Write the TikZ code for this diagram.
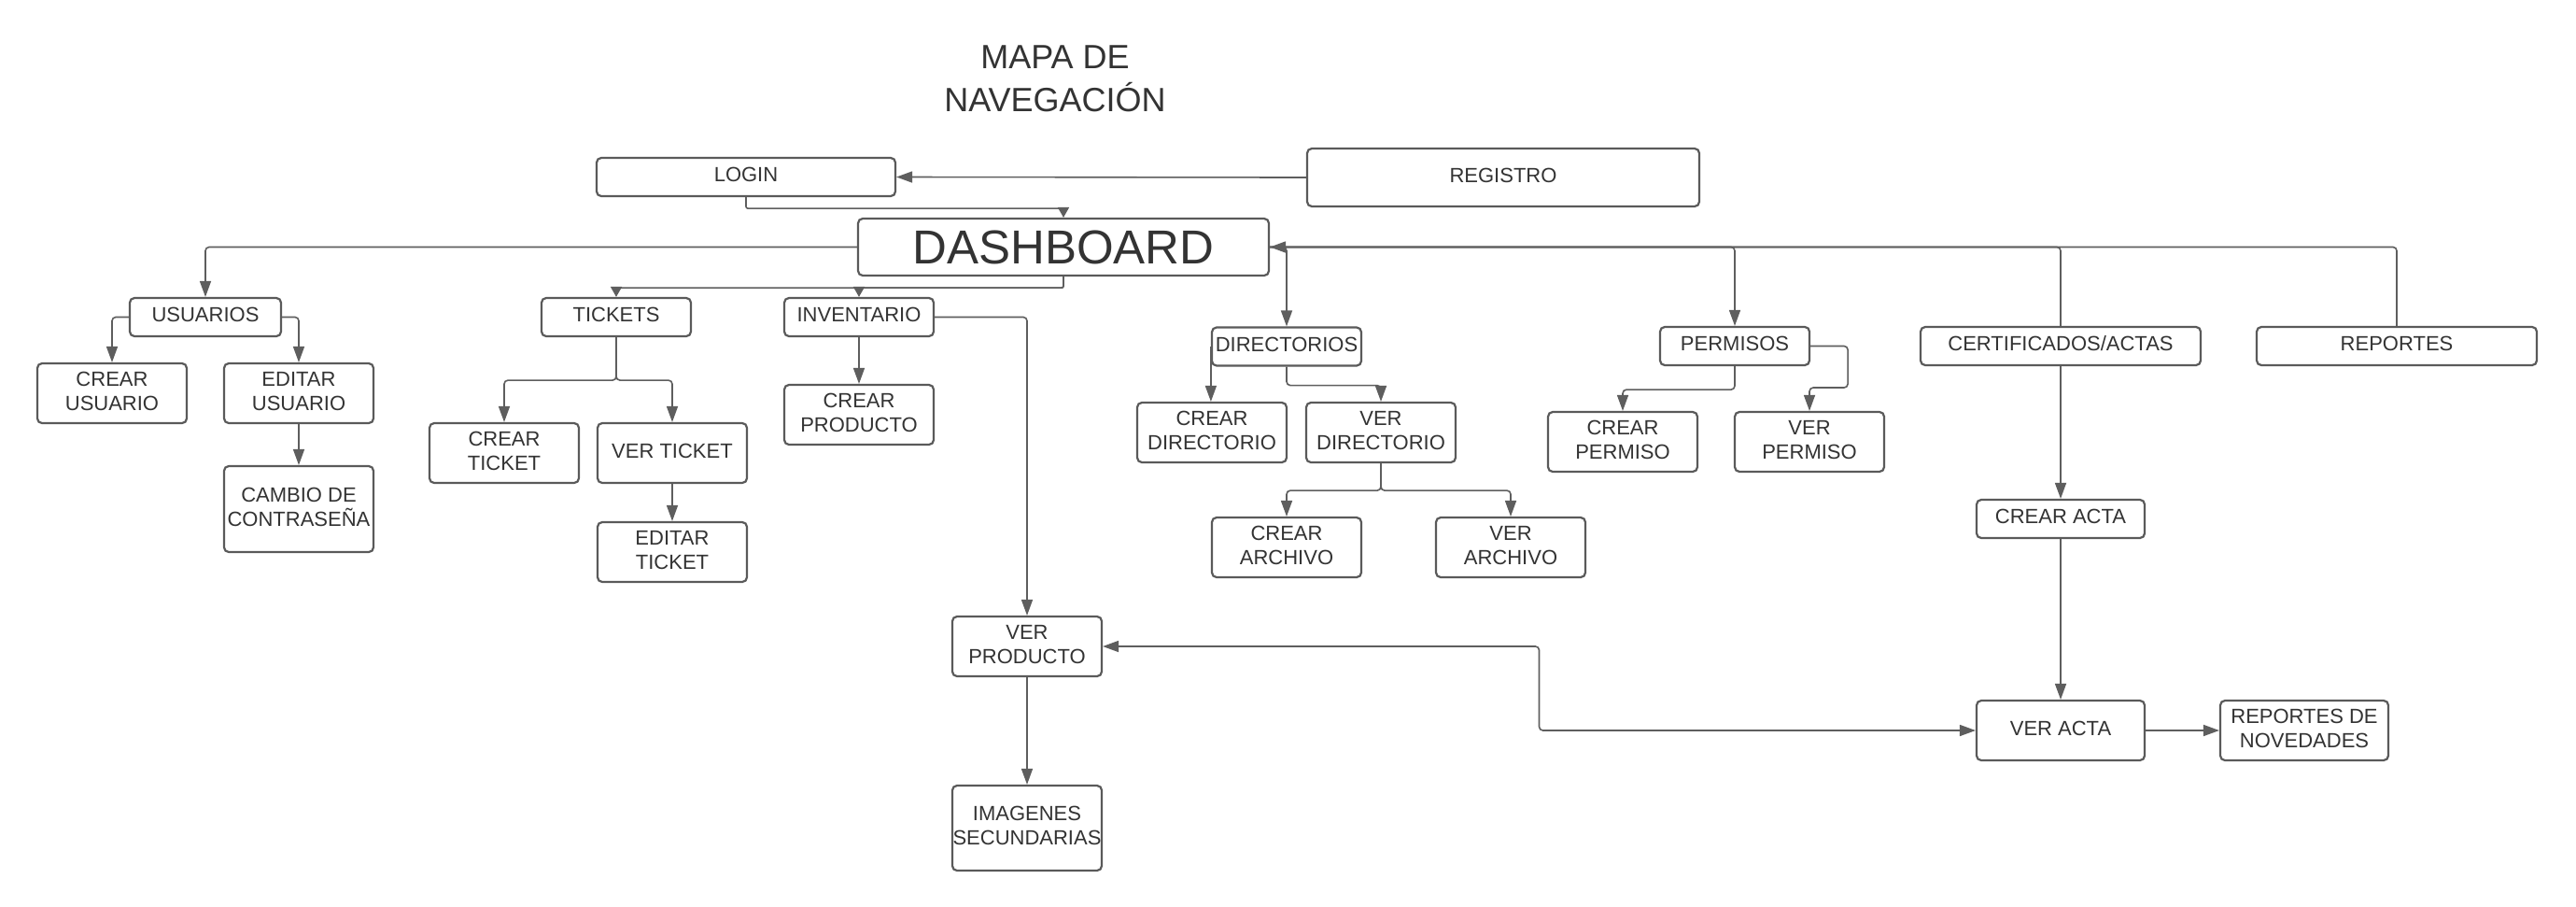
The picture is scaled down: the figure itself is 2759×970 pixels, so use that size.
\documentclass[tikz,border=0pt]{standalone}
\usepackage{fontspec}
\setmainfont{Liberation Sans}
\usetikzlibrary{arrows.meta,calc}
\definecolor{bc}{HTML}{5A5A5A}
\definecolor{lc}{HTML}{5E5E5E}
\definecolor{tc}{HTML}{333333}
\begin{document}
\begin{tikzpicture}[x=1pt,y=-1pt,
  box/.style={draw=bc, line width=2.2pt, rounded corners=5pt, inner sep=0pt,
    align=center, text=tc, text depth=5pt, font=\fontsize{22}{26}\selectfont},
  conn/.style={draw=lc, line width=1.6pt, rounded corners=4pt},
  arr/.style={-{Triangle[length=17pt,width=12pt]}},
  arrs/.style={-{Triangle[length=11pt,width=12pt]}},
  barr/.style={{Triangle[length=17pt,width=12pt]}-{Triangle[length=17pt,width=12pt]}}
]
\useasboundingbox[fill=white] (0,0) rectangle (2759,970);

\node[text=tc, font=\fontsize{36}{46}\selectfont, align=center, inner sep=0pt, anchor=north] (title) at (1130,49) {MAPA DE\\NAVEGACIÓN};

\node[box, minimum width=320, minimum height=41] (login) at (799,189.5) {LOGIN};
\node[box, minimum width=420, minimum height=62] (reg) at (1610,190) {REGISTRO};
\node[box, minimum width=440, minimum height=61, text depth=0pt, font=\fontsize{51}{56}\selectfont] (dash) at (1139,264.5) {DASHBOARD};

\node[box, minimum width=162, minimum height=41] (usu) at (220,339.5) {USUARIOS};
\node[box, minimum width=160, minimum height=64] (cu) at (120,421) {CREAR\\USUARIO};
\node[box, minimum width=160, minimum height=64] (eu) at (320,421) {EDITAR\\USUARIO};
\node[box, minimum width=160, minimum height=92] (cam) at (320,545) {CAMBIO DE\\CONTRASEÑA};

\node[box, minimum width=160, minimum height=41] (tick) at (660,339.5) {TICKETS};
\node[box, minimum width=160, minimum height=64] (ct) at (540,485) {CREAR\\TICKET};
\node[box, minimum width=160, minimum height=64] (vt) at (720,485) {VER TICKET};
\node[box, minimum width=160, minimum height=64] (et) at (720,591) {EDITAR\\TICKET};

\node[box, minimum width=160, minimum height=41] (inv) at (920,339.5) {INVENTARIO};
\node[box, minimum width=160, minimum height=64] (cp) at (920,444) {CREAR\\PRODUCTO};
\node[box, minimum width=160, minimum height=64] (vp) at (1100,692) {VER\\PRODUCTO};
\node[box, minimum width=160, minimum height=91] (img) at (1100,886.5) {IMAGENES\\SECUNDARIAS};

\node[box, minimum width=160, minimum height=41] (dir) at (1378,371) {DIRECTORIOS};
\node[box, minimum width=160, minimum height=64] (cd) at (1298,463) {CREAR\\DIRECTORIO};
\node[box, minimum width=160, minimum height=64] (vd) at (1479,463) {VER\\DIRECTORIO};
\node[box, minimum width=160, minimum height=64] (ca) at (1378,586) {CREAR\\ARCHIVO};
\node[box, minimum width=160, minimum height=64] (va) at (1618,586) {VER\\ARCHIVO};

\node[box, minimum width=160, minimum height=41] (per) at (1858,370.5) {PERMISOS};
\node[box, minimum width=160, minimum height=64] (cpe) at (1738,473) {CREAR\\PERMISO};
\node[box, minimum width=160, minimum height=64] (vpe) at (1938,473) {VER\\PERMISO};

\node[box, minimum width=300, minimum height=41] (cert) at (2207,370.5) {CERTIFICADOS/ACTAS};
\node[box, minimum width=300, minimum height=41] (rep) at (2567,370.5) {REPORTES};
\node[box, minimum width=180, minimum height=41] (cac) at (2207,555.5) {CREAR ACTA};
\node[box, minimum width=180, minimum height=64] (vac) at (2207,782) {VER ACTA};
\node[box, minimum width=180, minimum height=64] (rn) at (2468,782) {REPORTES DE\\NOVEDADES};

% top
\draw[conn,arr] (reg.west) -- (login.east);
\draw[conn,arrs,rounded corners=2pt] (login.south) -- ++(0,12) -| (dash.north);
% left bus
\draw[conn,arr] (dash.west) -| (usu.north);
\draw[conn,arr] (usu.west) -| (cu.north);
\draw[conn,arr] (usu.east) -| (eu.north);
\draw[conn,arr] (eu.south) -- (cam.north);
% bottom bus
\draw[conn,arrs,rounded corners=2pt] (dash.south) -- ++(0,12) -| (tick.north);
\draw[conn,arrs,rounded corners=2pt] (dash.south) -- ++(0,12) -| (inv.north);
\draw[conn,arr] (tick.south) -- ++(0,46) -| (ct.north);
\draw[conn,arr] (tick.south) -- ++(0,46) -| (vt.north);
\draw[conn,arr] (vt.south) -- (et.north);
\draw[conn,arr] (inv.south) -- (cp.north);
\draw[conn,arr] (inv.east) -| (vp.north);
\draw[conn,arr] (vp.south) -- (img.north);
\draw[conn,barr] (vp.east) -| ($(vp.east)!0.5!(vac.west)$) |- (vac.west);
% right bus
\draw[conn,arr] (rep.north) |- (dash.east);
\draw[conn] (cert.north) |- (dash.east);
\draw[conn,arr] (dash.east) -| (dir.north);
\draw[conn,arr] (dash.east) -| (per.north);
\draw[conn,arr] (dir.west) -- (dir.west |- cd.north);
\draw[conn,arr] (dir.south) -- ++(0,20) -| (vd.north);
\draw[conn,arr] (vd.south) -- ++(0,29) -| (ca.north);
\draw[conn,arr] (vd.south) -- ++(0,29) -| (va.north);
\draw[conn,arr] (per.south) -- ++(0,25) -| (cpe.north);
\draw[conn,arr] (per.east) -- ++(40,0) -- ++(0,44.5) -| (vpe.north);
\draw[conn,arr] (cert.south) -- (cac.north);
\draw[conn,arr] (cac.south) -- (vac.north);
\draw[conn,arr] (vac.east) -- (rn.west);
\end{tikzpicture}
\end{document}
